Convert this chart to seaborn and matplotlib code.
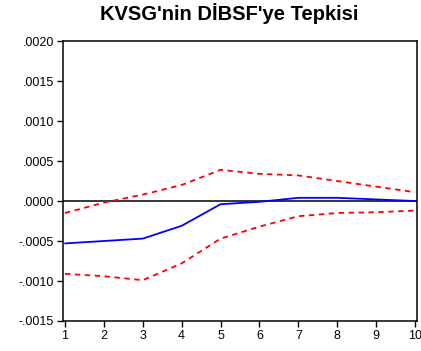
import matplotlib
matplotlib.use("Agg")
import matplotlib.pyplot as plt
import matplotlib.ticker as mticker
import seaborn as sns
import pandas as pd

# Impulse response of KVSG to a DİBSF shock, with ±2 S.E. bands
periods = [1, 2, 3, 4, 5, 6, 7, 8, 9, 10]
response = [-0.00053, -0.00050, -0.00047, -0.00031, -0.00004,
            -0.00001, 0.00004, 0.00004, 0.00002, 0.00000]
upper_band = [-0.00015, -0.00002, 0.00008, 0.00020, 0.00039,
              0.00034, 0.00032, 0.00025, 0.00018, 0.00011]
lower_band = [-0.00091, -0.00094, -0.00099, -0.00078, -0.00047,
              -0.00032, -0.00019, -0.00015, -0.00014, -0.00012]
y_ticks = [-0.0015, -0.0010, -0.0005, 0.0, 0.0005, 0.0010, 0.0015, 0.0020]

df = pd.DataFrame({"period": periods, "response": response,
                   "upper": upper_band, "lower": lower_band})

sns.set_style("white")
plt.rcParams["font.family"] = ["Liberation Sans", "DejaVu Sans"]
plt.rcParams["text.color"] = "black"

fig = plt.figure(figsize=(4.21, 3.51), dpi=100)
ax = fig.add_axes([0.1496, 0.0855, 0.8409, 0.7975])

ax.axhline(0, color="black", linewidth=1.1, zorder=1)
sns.lineplot(data=df, x="period", y="response", ax=ax, color="#0000ff",
             linewidth=1.3, zorder=3)
sns.lineplot(data=df, x="period", y="upper", ax=ax, color="#ff0000",
             linewidth=1.3, zorder=2).lines[-1].set_dashes([3, 2.5])
sns.lineplot(data=df, x="period", y="lower", ax=ax, color="#ff0000",
             linewidth=1.3, zorder=2).lines[-1].set_dashes([3, 2.5])

ax.set_xlim(0.95, 10.05)
ax.set_ylim(-0.0015, 0.0020)
ax.set_xticks(periods)
ax.set_yticks(y_ticks)


def fmt(v, _pos):
    s = f"{abs(v):.4f}".lstrip("0")
    return ("-" if v < -1e-12 else "") + s


ax.yaxis.set_major_formatter(mticker.FuncFormatter(fmt))
ax.tick_params(axis="both", direction="out", length=4, width=1,
               color="black", labelsize=9, labelcolor="black", pad=2.5,
               left=True, bottom=True)
ax.set_xlabel("")
ax.set_ylabel("")
for sp in ax.spines.values():
    sp.set_color("black")
    sp.set_linewidth(1.1)

fig.suptitle("KVSG'nin DİBSF'ye Tepkisi", x=0.545, y=0.99,
             fontsize=14.5, fontweight="bold", color="black")

fig.savefig("out.png", dpi=100)
